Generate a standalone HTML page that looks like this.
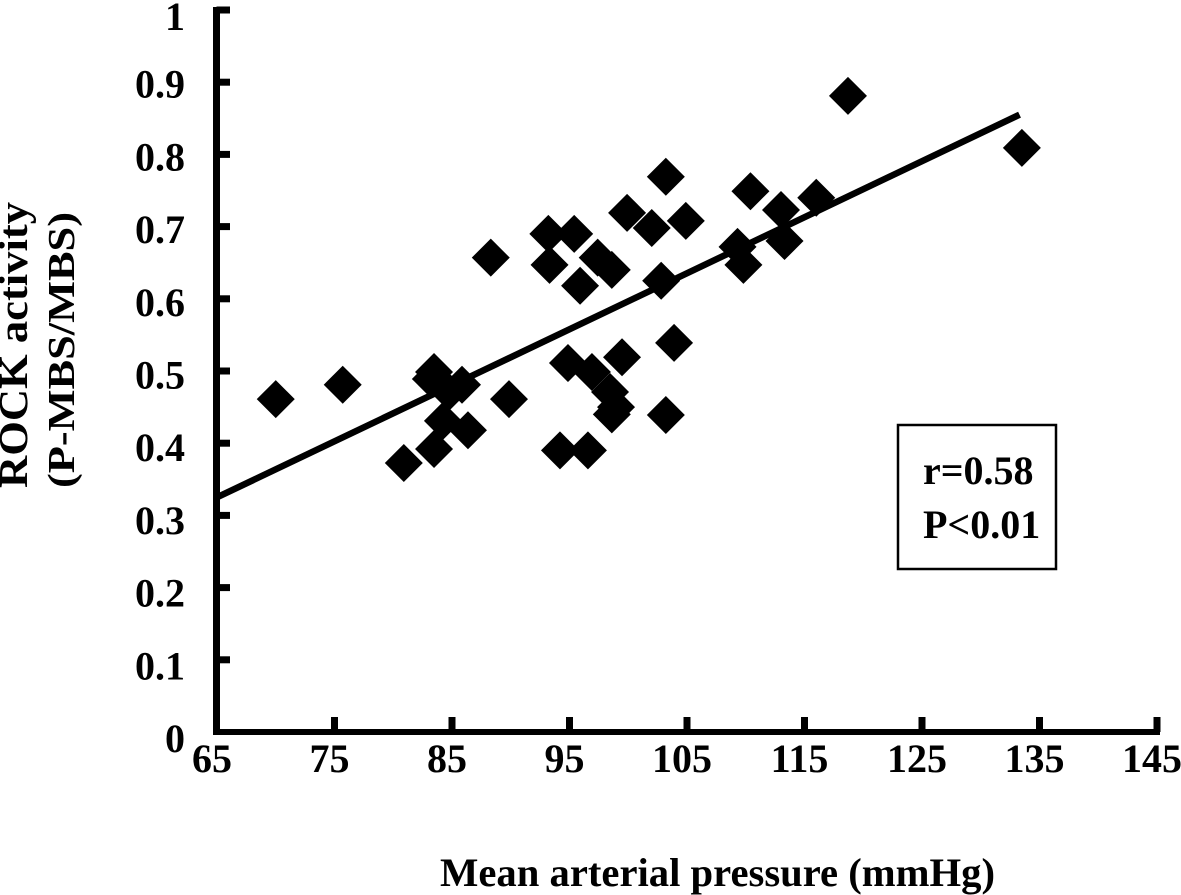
<!DOCTYPE html>
<html>
<head>
<meta charset="utf-8">
<style>
html,body{margin:0;padding:0;background:#fff;width:1181px;height:895px;overflow:hidden}
svg{display:block}
text{font-family:"Liberation Serif",serif;font-weight:bold;fill:#000}
</style>
</head>
<body>
<svg id="chart" xmlns="http://www.w3.org/2000/svg" width="1181" height="895" viewBox="0 0 1181 895"></svg>
<script>
const xTicks = [65, 75, 85, 95, 105, 115, 125, 135, 145];
const yTicks = [0, 0.1, 0.2, 0.3, 0.4, 0.5, 0.6, 0.7, 0.8, 0.9, 1];
const xValues = [70.0, 75.7, 80.9, 83.47, 83.47, 83.2, 84.23, 84.74, 85.85, 86.36, 88.3, 89.85, 93.2, 93.3, 94.19, 94.87, 95.4, 95.9, 96.57, 96.91, 97.4, 98.6, 98.45, 98.96, 98.6, 99.47, 99.9, 102.0, 102.8, 103.2, 103.2, 103.9, 104.9, 109.3, 109.8, 110.4, 113.0, 113.3, 116.0, 118.7, 133.5];
const yValues = [0.461, 0.481, 0.3726, 0.392, 0.4986, 0.489, 0.431, 0.471, 0.481, 0.418, 0.657, 0.461, 0.69, 0.647, 0.39, 0.511, 0.69, 0.618, 0.39, 0.4986, 0.657, 0.64, 0.471, 0.45, 0.44, 0.519, 0.719, 0.698, 0.625, 0.769, 0.439, 0.539, 0.708, 0.672, 0.647, 0.749, 0.723, 0.68, 0.74, 0.881, 0.809];
const trendX = [65, 133.3];
const trendY = [0.325, 0.855];

const NS = 'http://www.w3.org/2000/svg';
const svg = document.getElementById('chart');
const xScale = v => 217 + (v - 65) * 11.75;
const yScale = v => 732 - v * 722;

function make(tag, attrs, text) {
  const el = document.createElementNS(NS, tag);
  for (const k in attrs) el.setAttribute(k, attrs[k]);
  if (text !== undefined) el.textContent = text;
  svg.appendChild(el);
  return el;
}

// Trend line
const trend = make('line', {x1: xScale(trendX[0]), y1: yScale(trendY[0]), x2: xScale(trendX[1]), y2: yScale(trendY[1]), stroke: '#000', 'stroke-width': 6.5});



// Axes
const yAxis = make('line', {x1: 216.5, y1: 7, x2: 216.5, y2: 735, stroke: '#000', 'stroke-width': 7});


const xAxis = make('line', {x1: 213, y1: 732, x2: 1160, y2: 732, stroke: '#000', 'stroke-width': 6});



// X ticks and labels
xTicks.forEach(t => {
  const x = xScale(t);
  if (t !== 65) {
    const tick = make('line', {x1: x, y1: 717, x2: x, y2: 732, stroke: '#000', 'stroke-width': 7});
    
    
  }
  const label = make('text', {x: x - 5, y: 772, 'font-size': 40, 'text-anchor': 'middle'}, String(t));
  
  
});

// Y ticks and labels
yTicks.forEach(t => {
  const y = yScale(t);
  if (t !== 0) {
    const tick = make('line', {x1: 216.5, y1: y, x2: 230, y2: y, stroke: '#000', 'stroke-width': 7});
    
    
  }
  const baseline = t === 1 ? y + 20 : y + 20 - t * 5;
  const label = make('text', {x: 185, y: baseline, 'font-size': 40, 'text-anchor': 'end'}, String(t));
  
  
});

// Data points
xValues.forEach((v, i) => {
  const cx = xScale(v), cy = yScale(yValues[i]), r = 19;
  const p = make('polygon', {points: [cx, cy - r, cx + r, cy, cx, cy + r, cx - r, cy].join(' '), fill: '#000'});
  
  
});
</script>
<svg xmlns="http://www.w3.org/2000/svg" width="1181" height="895" viewBox="0 0 1181 895" style="position:absolute;left:0;top:0">
  <rect x="898" y="425" width="158" height="144" fill="none" stroke="#000" stroke-width="2.5"/>
  <text x="923" y="484" font-size="40">r=0.58</text>
  <text x="923" y="538" font-size="40">P&lt;0.01</text>
  <text x="440" y="886" font-size="40" textLength="555" lengthAdjust="spacingAndGlyphs">Mean arterial pressure (mmHg)</text>
  <text transform="translate(27,488) rotate(-90)" font-size="41" textLength="286" lengthAdjust="spacingAndGlyphs">ROCK activity</text>
  <text transform="translate(74,488) rotate(-90)" font-size="38" textLength="276" lengthAdjust="spacingAndGlyphs">(P-MBS/MBS)</text>
</svg>
</body>
</html>
